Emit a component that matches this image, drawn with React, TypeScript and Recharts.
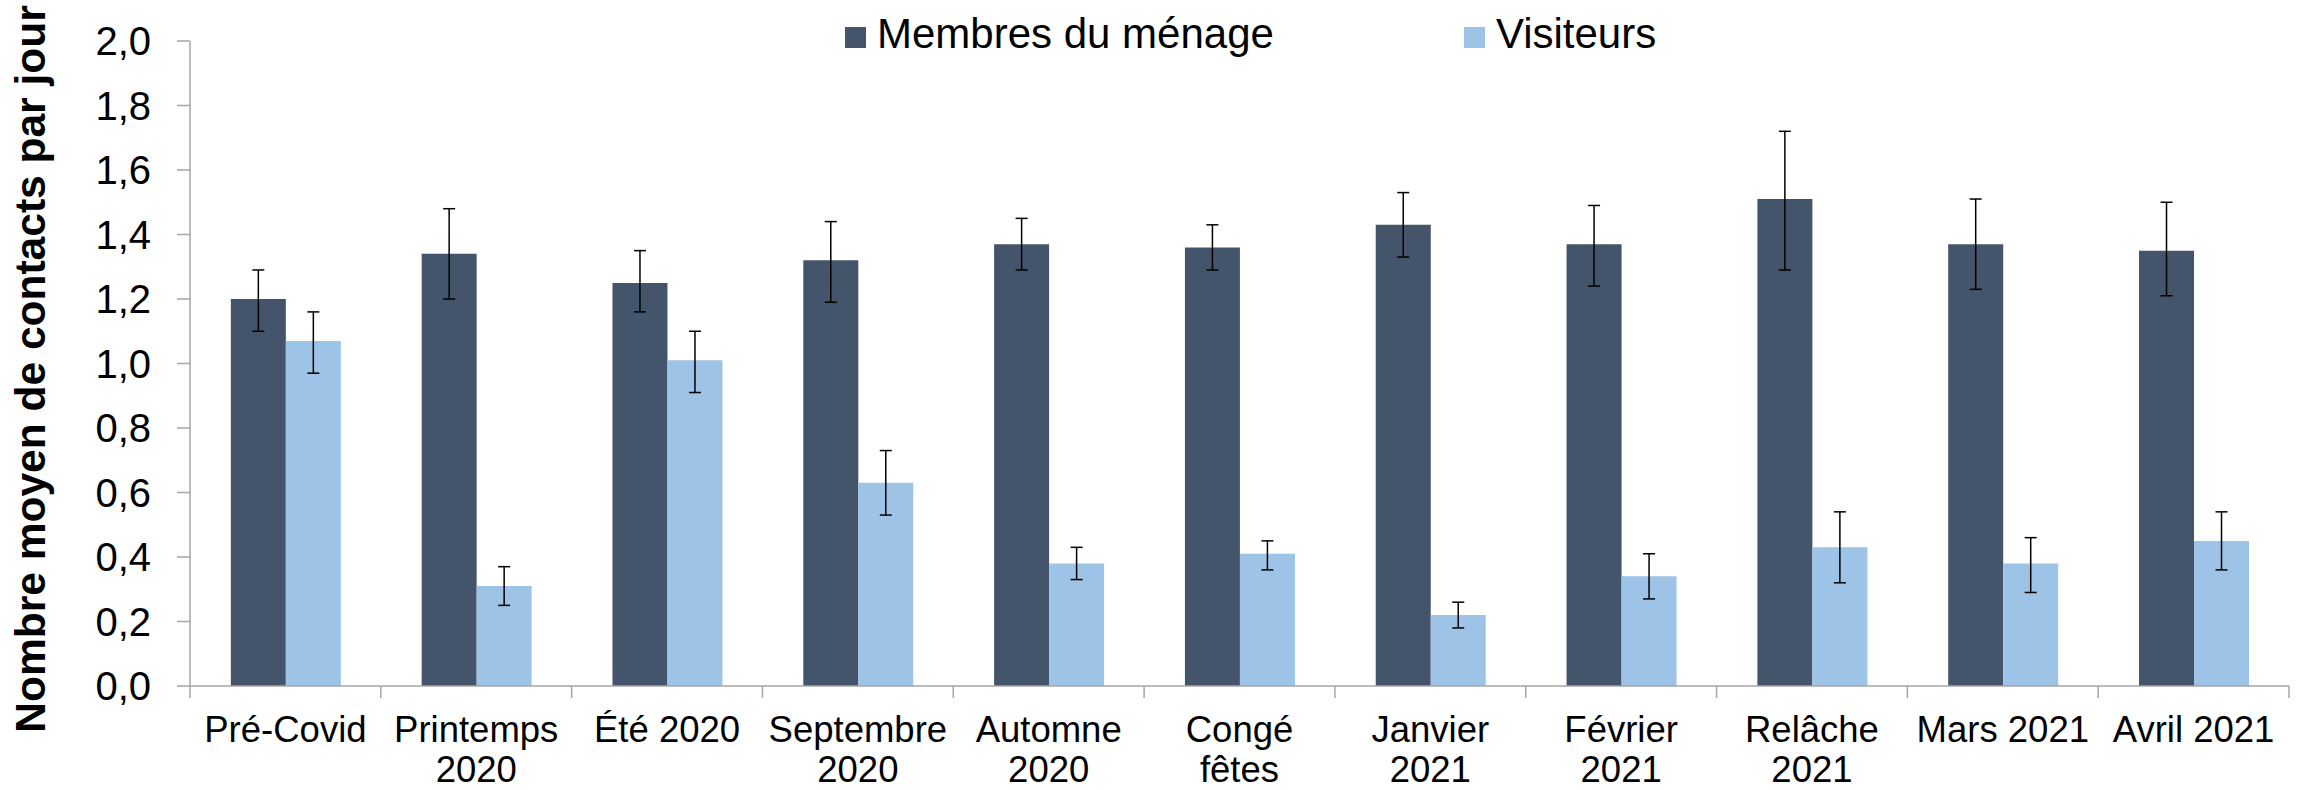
import React from 'react';
import { BarChart, Bar, XAxis, YAxis, ErrorBar, Label } from 'recharts';

const categories = [
  'Pré-Covid', 'Printemps 2020', 'Été 2020', 'Septembre 2020', 'Automne 2020', 'Congé fêtes',
  'Janvier 2021', 'Février 2021', 'Relâche 2021', 'Mars 2021', 'Avril 2021',
];
const tickLines = [
  ['Pré-Covid'], ['Printemps', '2020'], ['Été 2020'], ['Septembre', '2020'], ['Automne', '2020'],
  ['Congé', 'fêtes'], ['Janvier', '2021'], ['Février', '2021'], ['Relâche', '2021'], ['Mars 2021'], ['Avril 2021'],
];

const menage = [1.20, 1.34, 1.25, 1.32, 1.37, 1.36, 1.43, 1.37, 1.51, 1.37, 1.35];
const menageLow = [1.10, 1.20, 1.16, 1.19, 1.29, 1.29, 1.33, 1.24, 1.29, 1.23, 1.21];
const menageHigh = [1.29, 1.48, 1.35, 1.44, 1.45, 1.43, 1.53, 1.49, 1.72, 1.51, 1.50];

const visiteurs = [1.07, 0.31, 1.01, 0.63, 0.38, 0.41, 0.22, 0.34, 0.43, 0.38, 0.45];
const visiteursLow = [0.97, 0.25, 0.91, 0.53, 0.33, 0.36, 0.18, 0.27, 0.32, 0.29, 0.36];
const visiteursHigh = [1.16, 0.37, 1.10, 0.73, 0.43, 0.45, 0.26, 0.41, 0.54, 0.46, 0.54];

const yTicks = [0, 0.2, 0.4, 0.6, 0.8, 1.0, 1.2, 1.4, 1.6, 1.8, 2.0];

const series = [
  { key: 'menage', name: 'Membres du ménage', color: '#44546A' },
  { key: 'visiteurs', name: 'Visiteurs', color: '#9DC3E6' },
];

const data = categories.map((c, i) => ({
  name: c,
  menage: menage[i],
  menageErr: [+(menage[i] - menageLow[i]).toFixed(3), +(menageHigh[i] - menage[i]).toFixed(3)],
  visiteurs: visiteurs[i],
  visiteursErr: [+(visiteurs[i] - visiteursLow[i]).toFixed(3), +(visiteursHigh[i] - visiteurs[i]).toFixed(3)],
}));

const W = 2297;
const H = 790;
const AXIS = '#A6A6A6';
const PLOT_W = 2289 - 190;

function XTick(props: any) {
  const { x, y, payload, index } = props;
  const half = payload && payload.offset ? payload.offset : PLOT_W / categories.length / 2;
  const i0 = payload.index ?? index;
  const lines = tickLines[i0] || [payload.value];
  const last = i0 === categories.length - 1;
  return (
    <g>
      <line x1={x - half} x2={x - half} y1={y} y2={y + 12} stroke={AXIS} strokeWidth={1.5} />
      {last && <line x1={x + half} x2={x + half} y1={y} y2={y + 12} stroke={AXIS} strokeWidth={1.5} />}
      {lines.map((l: string, i: number) => (
        <text key={i} x={x} y={y + 56 + i * 40} textAnchor="middle" fontSize={36.5} fill="#000">
          {l}
        </text>
      ))}
    </g>
  );
}

function YTitle() {
  return (
    <text x={45} y={369} transform="rotate(-90, 45, 369)" textAnchor="middle" fontSize={42.5} fontWeight="bold" fill="#000">
      Nombre moyen de contacts par jour
    </text>
  );
}

export default function App() {
  return (
    <div style={{ position: 'absolute', left: 0, top: 0, width: W, height: H, background: '#fff', fontFamily: '"Liberation Sans", Arial, sans-serif' }}>
      <BarChart width={W} height={H} data={data} margin={{ top: 41, right: 8, bottom: 0, left: 0 }} barCategoryGap="21.4%" barGap={0}>
        <XAxis dataKey="name" interval={0} height={104} tickSize={0} tickMargin={0} tickLine={false} axisLine={{ stroke: AXIS, strokeWidth: 1.5 }} tick={<XTick />} />
        <YAxis
          domain={[0, 2]}
          ticks={yTicks}
          width={190}
          tickSize={13}
          tickMargin={26}
          axisLine={{ stroke: AXIS, strokeWidth: 1.5 }}
          tickLine={{ stroke: AXIS, strokeWidth: 1.5 }}
          tick={{ fontSize: 40, fill: '#000' }}
          tickFormatter={(v: number) => v.toFixed(1).replace('.', ',')}
        >
          <Label content={<YTitle />} />
        </YAxis>
        {series.map((s) => (
          <Bar key={s.key} dataKey={s.key} name={s.name} fill={s.color} isAnimationActive={false}>
            <ErrorBar dataKey={s.key + 'Err'} width={6} stroke="#000" strokeWidth={1.5} isAnimationActive={false} />
          </Bar>
        ))}
      </BarChart>
      <div style={{ position: 'absolute', left: 845, top: 13, display: 'flex', alignItems: 'flex-start', fontSize: 42, lineHeight: '42px', color: '#000' }}>
        {series.map((s, i) => (
          <div key={s.key} style={{ display: 'flex', alignItems: 'flex-start', marginRight: i === 0 ? 190 : 0 }}>
            <span style={{ display: 'inline-block', width: 21, height: 21, background: s.color, marginTop: 14, marginRight: 11 }} />
            <span>{s.name}</span>
          </div>
        ))}
      </div>
    </div>
  );
}
